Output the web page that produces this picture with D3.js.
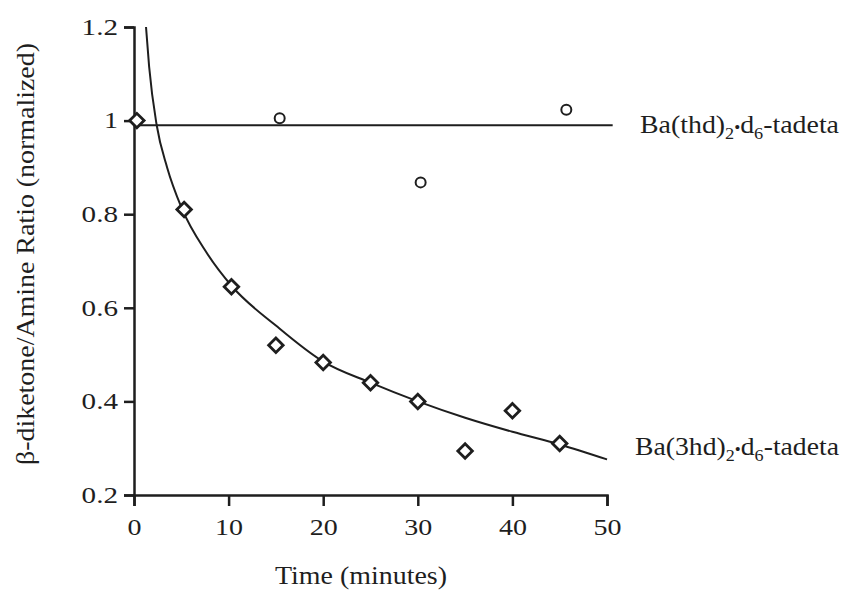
<!DOCTYPE html>
<html>
<head>
<meta charset="utf-8">
<script src="https://cdn.jsdelivr.net/npm/d3@7"></script>
<style>
  html, body { margin: 0; padding: 0; background: #ffffff; }
  svg { display: block; }
  text { font-family: "Times New Roman", Times, Tinos, "Liberation Serif", "Nimbus Roman", FreeSerif, serif; fill: #1e1e1e; }
</style>
</head>
<body>
<svg id="chart" width="846" height="595"></svg>
<script>
// ---- data ----
const xTicks = [0, 10, 20, 30, 40, 50];
const yTicks = [0.2, 0.4, 0.6, 0.8, 1, 1.2];

// Ba(3hd)2·d6-tadeta (diamonds)
const diamondTime  = [0.3, 5.3, 10.3, 15.0, 20.0, 25.0, 30.0, 35.0, 40.0, 45.0];
const diamondRatio = [1.00, 0.81, 0.645, 0.52, 0.483, 0.44, 0.40, 0.294, 0.38, 0.31];

// Ba(thd)2·d6-tadeta (circles)
const circleTime  = [15.4, 30.3, 45.7];
const circleRatio = [1.005, 0.868, 1.023];

// fitted decay curve
const fitTime  = [1.27, 1.6, 2.4, 3.5, 5.0, 7.7, 10.4, 15, 20, 25, 30, 35, 40, 45, 50];
const fitRatio = [1.2, 1.115, 0.99, 0.90, 0.815, 0.717, 0.645, 0.562, 0.485, 0.44, 0.40, 0.365, 0.335, 0.308, 0.276];

// flat line for Ba(thd)2·d6-tadeta
const flatTime  = [0, 50.6];
const flatRatio = [0.99, 0.99];

const seriesLabels = ["Ba(thd)", "Ba(3hd)"];
const xTitle = "Time (minutes)";
const yTitle = "β-diketone/Amine Ratio (normalized)";

// ---- drawing ----
const svg = d3.select("#chart");
svg.append("rect").attr("width", 846).attr("height", 595).attr("fill", "#ffffff");

const x = d3.scaleLinear().domain([0, 50]).range([134, 607]);
const y = d3.scaleLinear().domain([0.2, 1.2]).range([495, 27]);
const ink = "#1e1e1e";
const digitW = 14; // measured width of one digit in the picture

// axes
const xAxis = d3.axisBottom(x).tickValues(xTicks).tickSize(11).tickFormat(d3.format("d"));
const gx = svg.append("g").attr("transform", `translate(0,${y(0.2)})`).call(xAxis);
const yAxis = d3.axisLeft(y).tickValues(yTicks).tickSize(10)
  .tickFormat(d => d === 1 ? "1" : d3.format(".1f")(d));
const gy = svg.append("g").attr("transform", `translate(${x(0)},0)`).call(yAxis);

function labelWidth(s) {
  let w = 0;
  for (const c of s) w += (c === "." ? 0.6 : 1) * digitW;
  return w;
}

[gx, gy].forEach(g => {
  g.select(".domain").attr("stroke", ink).attr("stroke-width", 2.5);
  g.selectAll(".tick line").attr("stroke", ink).attr("stroke-width", 2.5);
  g.selectAll(".tick text").attr("font-size", 23).attr("fill", ink)
    .style("font-family", "'Times New Roman', Times, Tinos, 'Liberation Serif', serif")
    .attr("lengthAdjust", "spacingAndGlyphs")
    .attr("textLength", function () { return labelWidth(this.textContent); });
});
gx.selectAll(".tick text").attr("y", 24);
gy.selectAll(".tick text").attr("x", -16);

// lines
const line = d3.line().x(d => x(d[0])).y(d => y(d[1]));
svg.append("path")
  .datum(flatTime.map((t, i) => [t, flatRatio[i]]))
  .attr("d", line)
  .attr("fill", "none").attr("stroke", ink).attr("stroke-width", 2);

svg.append("path")
  .datum(fitTime.map((t, i) => [t, fitRatio[i]]))
  .attr("d", line.curve(d3.curveMonotoneX))
  .attr("fill", "none").attr("stroke", ink).attr("stroke-width", 2);

// markers
const diamond = d3.symbol().type(d3.symbolSquare).size(105);
svg.append("g").selectAll("path")
  .data(diamondTime.map((t, i) => [t, diamondRatio[i]]))
  .join("path")
  .attr("d", diamond)
  .attr("transform", d => `translate(${x(d[0])},${y(d[1])}) rotate(45)`)
  .attr("fill", "#ffffff").attr("stroke", ink).attr("stroke-width", 2.8);

svg.append("g").selectAll("circle")
  .data(circleTime.map((t, i) => [t, circleRatio[i]]))
  .join("circle")
  .attr("cx", d => x(d[0])).attr("cy", d => y(d[1])).attr("r", 5)
  .attr("fill", "#ffffff").attr("stroke", ink).attr("stroke-width", 2);

// axis titles
svg.append("text")
  .attr("x", 361).attr("y", 584)
  .attr("text-anchor", "middle").attr("font-size", 25)
  .attr("textLength", 172).attr("lengthAdjust", "spacingAndGlyphs")
  .text(xTitle);

svg.append("text")
  .attr("transform", "translate(34,254) rotate(-90)")
  .attr("text-anchor", "middle").attr("font-size", 26)
  .attr("textLength", 422).attr("lengthAdjust", "spacingAndGlyphs")
  .text(yTitle);

// series labels with subscripts
function seriesLabel(xp, yp, base, width) {
  const t = svg.append("text").attr("x", xp).attr("y", yp).attr("font-size", 26)
    .attr("textLength", width).attr("lengthAdjust", "spacingAndGlyphs");
  t.append("tspan").text(base);
  t.append("tspan").attr("dy", 6).attr("font-size", 17).text("2");
  t.append("tspan").attr("dy", -6).attr("font-size", 16).text("•");
  t.append("tspan").text("d");
  t.append("tspan").attr("dy", 6).attr("font-size", 17).text("6");
  t.append("tspan").attr("dy", -6).text("-tadeta");
}
seriesLabel(640, 133, seriesLabels[0], 199);
seriesLabel(635, 455, seriesLabels[1], 204);
</script>
</body>
</html>
